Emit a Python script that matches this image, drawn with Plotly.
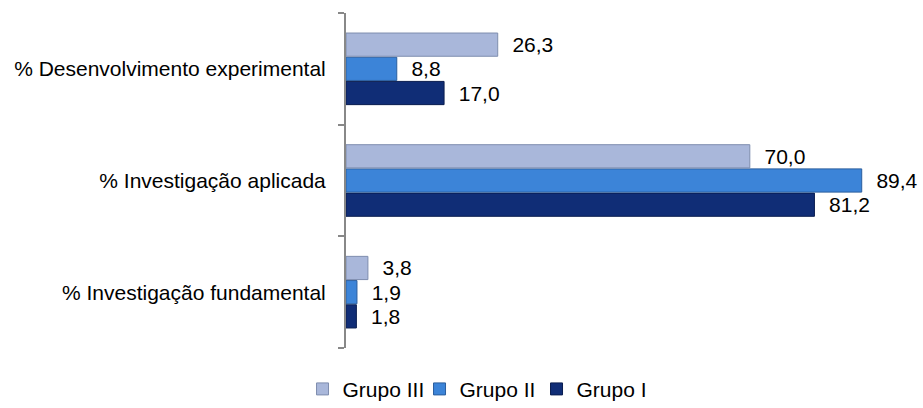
import plotly.graph_objects as go

categories = ["% Investigação fundamental", "% Investigação aplicada", "% Desenvolvimento experimental"]
series_names = ["Grupo I", "Grupo II", "Grupo III"]
grupo_i = [1.8, 81.2, 17.0]
grupo_ii = [1.9, 89.4, 8.8]
grupo_iii = [3.8, 70.0, 26.3]

colors = {"Grupo I": "#102D76", "Grupo II": "#3C84D8", "Grupo III": "#A9B7DA"}
edges = {"Grupo I": "#0A1D4F", "Grupo II": "#2A5E9E", "Grupo III": "#7E8DAE"}

FONT = "Liberation Sans, Arial, sans-serif"

def fmt(v):
    return "  " + f"{v:.1f}".replace(".", ",")

fig = go.Figure()
for name, vals in zip(series_names, [grupo_i, grupo_ii, grupo_iii]):
    fig.add_trace(go.Bar(
        y=categories, x=vals, name=name, orientation="h",
        marker=dict(color=colors[name], line=dict(color=edges[name], width=1)),
        text=[fmt(v) for v in vals], textposition="outside",
        textfont=dict(family=FONT, size=21, color="#000000"),
        cliponaxis=False,
    ))

fig.update_layout(
    template="none",
    width=923, height=408,
    margin=dict(l=346, r=3, t=13, b=60, autoexpand=False),
    paper_bgcolor="white", plot_bgcolor="white",
    barmode="group", bargap=0.35, bargroupgap=0.04,
    font=dict(family=FONT, size=21, color="#000000"),
    showlegend=True,
    legend=dict(orientation="h", x=0.23, xanchor="center", y=-0.062, yanchor="top",
                traceorder="reversed", font=dict(size=21), itemwidth=30,
                entrywidth=72, entrywidthmode="pixels", bgcolor="rgba(0,0,0,0)"),
    xaxis=dict(range=[0, 99.5], showticklabels=False, showgrid=False, zeroline=False,
               showline=False, ticks="", automargin=False),
    yaxis=dict(showline=True, linecolor="#888888", linewidth=2, ticks="outside",
               tickson="boundaries", ticklen=6, tickcolor="#888888", tickwidth=2,
               showgrid=False, zeroline=False, ticklabelstandoff=14, automargin=False,
               tickfont=dict(size=21)),
)

fig.write_html("out.html", config={"displayModeBar": False},
               post_script="document.body.style.margin='0';")
